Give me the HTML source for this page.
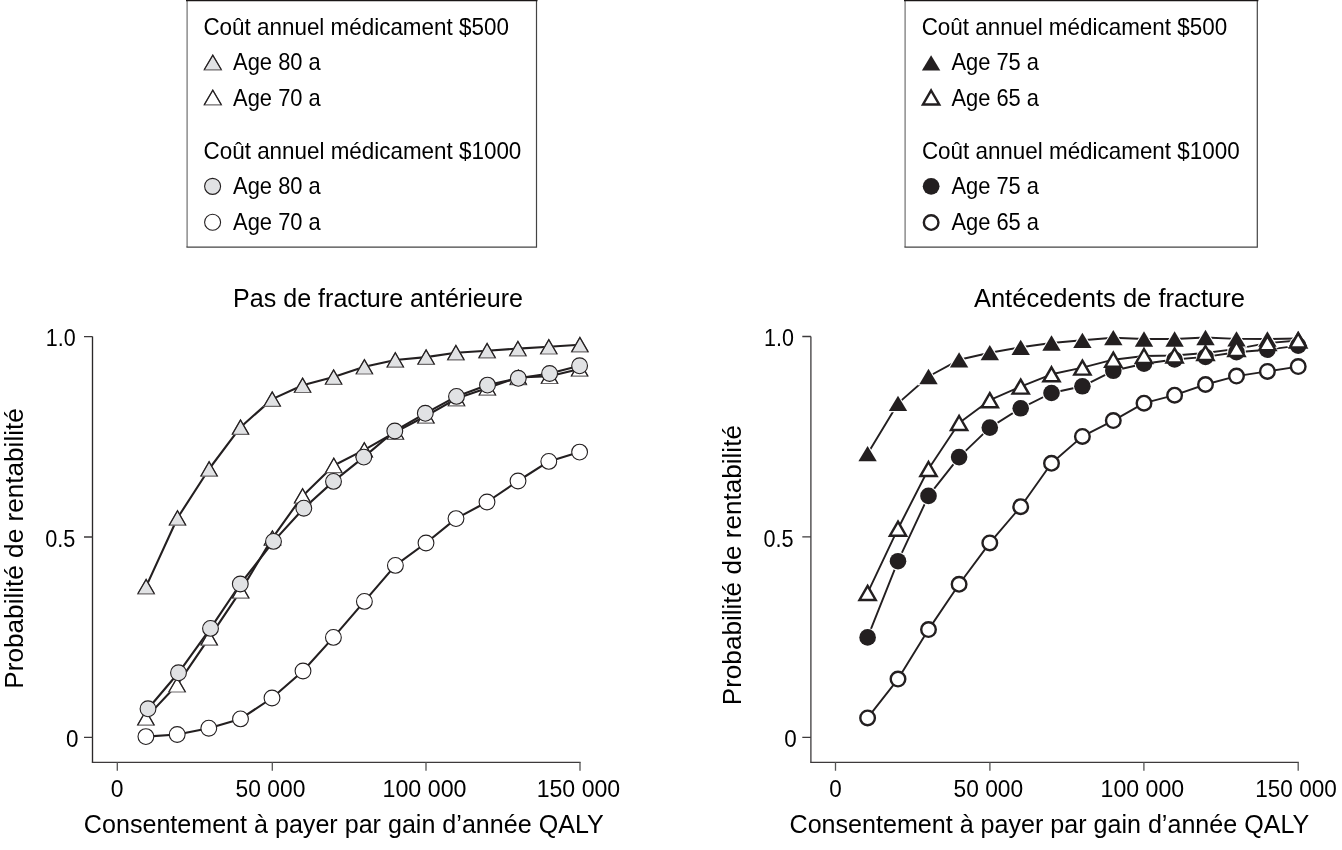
<!DOCTYPE html>
<html><head><meta charset="utf-8"><title>Probabilité de rentabilité</title>
<style>
html,body{margin:0;padding:0;background:#fff;}
svg{display:block;will-change:transform;}
text{font-family:"Liberation Sans",sans-serif;fill:#000;}
</style></head>
<body>
<svg width="1342" height="850" viewBox="0 0 1342 850">
<rect width="1342" height="850" fill="#fff"/>

<g fill="none">
<path d="M92.5,336.6V762.3" stroke="#2b2829" stroke-width="1.35"/>
<path d="M810.9,336.5V762.3" stroke="#3d3a3b" stroke-width="1.3"/>
<path d="M84,336.6H92.5M84,537H92.5M84,737.3H92.5" stroke="#3d3a3b" stroke-width="1.3"/>
<path d="M802.3,336.5H810.9M802.3,536.9H810.9M802.3,737.3H810.9" stroke="#3d3a3b" stroke-width="1.3"/>
<path d="M91.8,762.3H580.6M810.2,762.3H1298.8" stroke="#3d3a3b" stroke-width="1.25"/>
<path d="M117.3,762.3V770.8M272.3,762.3V770.8M426,762.3V770.8M580,762.3V770.8" stroke="#555" stroke-width="1.3"/>
<path d="M835.5,762.3V770.7M989.9,762.3V770.7M1143.9,762.3V770.7M1298.2,762.3V770.7" stroke="#555" stroke-width="1.3"/>
</g>
<g fill="none" stroke-width="1.2">
<path d="M187.1,0V247.1" stroke="#7a7a7a" stroke-width="1.3"/>
<path d="M905.1,0V247.1" stroke="#7a7a7a" stroke-width="1.3"/>
<path d="M536.5,0V247.1H186.4" stroke="#444"/>
<path d="M1257.3,0V247.1H904.4" stroke="#444"/>
<path d="M186,0.5H537.5M904,0.5H1258.4" stroke="#1a1616" stroke-width="1.4"/>
</g>

<polyline points="146.1,586.6 177.5,518.0 209.1,469.0 240.5,427.2 272.2,399.1 302.6,385.3 333.6,377.1 364.4,366.8 395.3,360.0 426.1,357.1 455.9,352.7 487.1,350.7 517.9,348.6 548.8,346.8 579.9,344.7" fill="none" stroke="#231f20" stroke-width="2.1" stroke-linejoin="round"/>
<polyline points="145.9,717.9 177.1,684.8 209.2,637.9 240.7,590.9 272.4,538.1 302.6,495.9 333.8,465.5 364.3,449.9 395.4,432.1 425.9,416.0 456.5,398.6 487.4,388.0 518.3,377.4 549.5,376.3 579.6,368.9" fill="none" stroke="#231f20" stroke-width="2.1" stroke-linejoin="round"/>
<polyline points="148.0,708.8 178.5,672.8 210.5,628.4 240.3,584.0 273.5,541.4 303.8,508.2 333.5,481.4 363.8,457.1 394.8,431.0 425.3,413.3 456.5,396.4 487.5,385.1 518.3,378.3 549.6,373.5 579.6,365.8" fill="none" stroke="#231f20" stroke-width="2.1" stroke-linejoin="round"/>
<polyline points="145.9,736.6 177.2,734.5 208.8,728.2 240.5,718.9 272.0,698.0 303.0,671.0 333.4,637.4 364.4,601.4 395.4,565.4 426.0,543.0 456.0,518.6 487.0,502.0 518.0,481.0 548.8,461.4 579.6,452.1" fill="none" stroke="#231f20" stroke-width="2.1" stroke-linejoin="round"/>
<circle cx="145.90" cy="736.60" r="7.9" fill="#fff" stroke="#231f20" stroke-width="1.1"/>
<circle cx="177.20" cy="734.50" r="7.9" fill="#fff" stroke="#231f20" stroke-width="1.1"/>
<circle cx="208.80" cy="728.20" r="7.9" fill="#fff" stroke="#231f20" stroke-width="1.1"/>
<circle cx="240.50" cy="718.90" r="7.9" fill="#fff" stroke="#231f20" stroke-width="1.1"/>
<circle cx="272.00" cy="698.00" r="7.9" fill="#fff" stroke="#231f20" stroke-width="1.1"/>
<circle cx="303.00" cy="671.00" r="7.9" fill="#fff" stroke="#231f20" stroke-width="1.1"/>
<circle cx="333.40" cy="637.40" r="7.9" fill="#fff" stroke="#231f20" stroke-width="1.1"/>
<circle cx="364.40" cy="601.40" r="7.9" fill="#fff" stroke="#231f20" stroke-width="1.1"/>
<circle cx="395.40" cy="565.40" r="7.9" fill="#fff" stroke="#231f20" stroke-width="1.1"/>
<circle cx="426.00" cy="543.00" r="7.9" fill="#fff" stroke="#231f20" stroke-width="1.1"/>
<circle cx="456.00" cy="518.60" r="7.9" fill="#fff" stroke="#231f20" stroke-width="1.1"/>
<circle cx="487.00" cy="502.00" r="7.9" fill="#fff" stroke="#231f20" stroke-width="1.1"/>
<circle cx="518.00" cy="481.00" r="7.9" fill="#fff" stroke="#231f20" stroke-width="1.1"/>
<circle cx="548.80" cy="461.40" r="7.9" fill="#fff" stroke="#231f20" stroke-width="1.1"/>
<circle cx="579.60" cy="452.10" r="7.9" fill="#fff" stroke="#231f20" stroke-width="1.1"/>
<path d="M145.90,710.70L154.20,725.10L137.60,725.10Z" fill="#fff" stroke="#6e6b6c" stroke-width="1.2"/><path d="M137.60,725.10L145.90,710.70L154.20,725.10" fill="none" stroke="#231f20" stroke-width="1.2"/>
<path d="M177.10,677.60L185.40,692.00L168.80,692.00Z" fill="#fff" stroke="#6e6b6c" stroke-width="1.2"/><path d="M168.80,692.00L177.10,677.60L185.40,692.00" fill="none" stroke="#231f20" stroke-width="1.2"/>
<path d="M209.20,630.70L217.50,645.10L200.90,645.10Z" fill="#fff" stroke="#6e6b6c" stroke-width="1.2"/><path d="M200.90,645.10L209.20,630.70L217.50,645.10" fill="none" stroke="#231f20" stroke-width="1.2"/>
<path d="M240.70,583.70L249.00,598.10L232.40,598.10Z" fill="#fff" stroke="#6e6b6c" stroke-width="1.2"/><path d="M232.40,598.10L240.70,583.70L249.00,598.10" fill="none" stroke="#231f20" stroke-width="1.2"/>
<path d="M272.40,530.90L280.70,545.30L264.10,545.30Z" fill="#fff" stroke="#6e6b6c" stroke-width="1.2"/><path d="M264.10,545.30L272.40,530.90L280.70,545.30" fill="none" stroke="#231f20" stroke-width="1.2"/>
<path d="M302.60,488.70L310.90,503.10L294.30,503.10Z" fill="#fff" stroke="#6e6b6c" stroke-width="1.2"/><path d="M294.30,503.10L302.60,488.70L310.90,503.10" fill="none" stroke="#231f20" stroke-width="1.2"/>
<path d="M333.80,458.30L342.10,472.70L325.50,472.70Z" fill="#fff" stroke="#6e6b6c" stroke-width="1.2"/><path d="M325.50,472.70L333.80,458.30L342.10,472.70" fill="none" stroke="#231f20" stroke-width="1.2"/>
<path d="M364.30,442.70L372.60,457.10L356.00,457.10Z" fill="#fff" stroke="#6e6b6c" stroke-width="1.2"/><path d="M356.00,457.10L364.30,442.70L372.60,457.10" fill="none" stroke="#231f20" stroke-width="1.2"/>
<path d="M395.40,424.90L403.70,439.30L387.10,439.30Z" fill="#fff" stroke="#6e6b6c" stroke-width="1.2"/><path d="M387.10,439.30L395.40,424.90L403.70,439.30" fill="none" stroke="#231f20" stroke-width="1.2"/>
<path d="M425.90,408.80L434.20,423.20L417.60,423.20Z" fill="#fff" stroke="#6e6b6c" stroke-width="1.2"/><path d="M417.60,423.20L425.90,408.80L434.20,423.20" fill="none" stroke="#231f20" stroke-width="1.2"/>
<path d="M456.50,391.40L464.80,405.80L448.20,405.80Z" fill="#fff" stroke="#6e6b6c" stroke-width="1.2"/><path d="M448.20,405.80L456.50,391.40L464.80,405.80" fill="none" stroke="#231f20" stroke-width="1.2"/>
<path d="M487.40,380.80L495.70,395.20L479.10,395.20Z" fill="#fff" stroke="#6e6b6c" stroke-width="1.2"/><path d="M479.10,395.20L487.40,380.80L495.70,395.20" fill="none" stroke="#231f20" stroke-width="1.2"/>
<path d="M518.30,370.20L526.60,384.60L510.00,384.60Z" fill="#fff" stroke="#6e6b6c" stroke-width="1.2"/><path d="M510.00,384.60L518.30,370.20L526.60,384.60" fill="none" stroke="#231f20" stroke-width="1.2"/>
<path d="M549.50,369.10L557.80,383.50L541.20,383.50Z" fill="#fff" stroke="#6e6b6c" stroke-width="1.2"/><path d="M541.20,383.50L549.50,369.10L557.80,383.50" fill="none" stroke="#231f20" stroke-width="1.2"/>
<path d="M579.60,361.70L587.90,376.10L571.30,376.10Z" fill="#fff" stroke="#6e6b6c" stroke-width="1.2"/><path d="M571.30,376.10L579.60,361.70L587.90,376.10" fill="none" stroke="#231f20" stroke-width="1.2"/>
<circle cx="148.00" cy="708.80" r="7.9" fill="#e1e2e4" stroke="#231f20" stroke-width="1.1"/>
<circle cx="178.50" cy="672.80" r="7.9" fill="#e1e2e4" stroke="#231f20" stroke-width="1.1"/>
<circle cx="210.50" cy="628.40" r="7.9" fill="#e1e2e4" stroke="#231f20" stroke-width="1.1"/>
<circle cx="240.30" cy="584.00" r="7.9" fill="#e1e2e4" stroke="#231f20" stroke-width="1.1"/>
<circle cx="273.50" cy="541.40" r="7.9" fill="#e1e2e4" stroke="#231f20" stroke-width="1.1"/>
<circle cx="303.80" cy="508.20" r="7.9" fill="#e1e2e4" stroke="#231f20" stroke-width="1.1"/>
<circle cx="333.50" cy="481.40" r="7.9" fill="#e1e2e4" stroke="#231f20" stroke-width="1.1"/>
<circle cx="363.80" cy="457.10" r="7.9" fill="#e1e2e4" stroke="#231f20" stroke-width="1.1"/>
<circle cx="394.80" cy="431.00" r="7.9" fill="#e1e2e4" stroke="#231f20" stroke-width="1.1"/>
<circle cx="425.30" cy="413.30" r="7.9" fill="#e1e2e4" stroke="#231f20" stroke-width="1.1"/>
<circle cx="456.50" cy="396.40" r="7.9" fill="#e1e2e4" stroke="#231f20" stroke-width="1.1"/>
<circle cx="487.50" cy="385.10" r="7.9" fill="#e1e2e4" stroke="#231f20" stroke-width="1.1"/>
<circle cx="518.30" cy="378.30" r="7.9" fill="#e1e2e4" stroke="#231f20" stroke-width="1.1"/>
<circle cx="549.60" cy="373.50" r="7.9" fill="#e1e2e4" stroke="#231f20" stroke-width="1.1"/>
<circle cx="579.60" cy="365.80" r="7.9" fill="#e1e2e4" stroke="#231f20" stroke-width="1.1"/>
<path d="M146.10,579.40L154.40,593.80L137.80,593.80Z" fill="#e1e2e4" stroke="#6e6b6c" stroke-width="1.2"/><path d="M137.80,593.80L146.10,579.40L154.40,593.80" fill="none" stroke="#231f20" stroke-width="1.2"/>
<path d="M177.50,510.80L185.80,525.20L169.20,525.20Z" fill="#e1e2e4" stroke="#6e6b6c" stroke-width="1.2"/><path d="M169.20,525.20L177.50,510.80L185.80,525.20" fill="none" stroke="#231f20" stroke-width="1.2"/>
<path d="M209.10,461.80L217.40,476.20L200.80,476.20Z" fill="#e1e2e4" stroke="#6e6b6c" stroke-width="1.2"/><path d="M200.80,476.20L209.10,461.80L217.40,476.20" fill="none" stroke="#231f20" stroke-width="1.2"/>
<path d="M240.50,420.00L248.80,434.40L232.20,434.40Z" fill="#e1e2e4" stroke="#6e6b6c" stroke-width="1.2"/><path d="M232.20,434.40L240.50,420.00L248.80,434.40" fill="none" stroke="#231f20" stroke-width="1.2"/>
<path d="M272.20,391.90L280.50,406.30L263.90,406.30Z" fill="#e1e2e4" stroke="#6e6b6c" stroke-width="1.2"/><path d="M263.90,406.30L272.20,391.90L280.50,406.30" fill="none" stroke="#231f20" stroke-width="1.2"/>
<path d="M302.60,378.10L310.90,392.50L294.30,392.50Z" fill="#e1e2e4" stroke="#6e6b6c" stroke-width="1.2"/><path d="M294.30,392.50L302.60,378.10L310.90,392.50" fill="none" stroke="#231f20" stroke-width="1.2"/>
<path d="M333.60,369.90L341.90,384.30L325.30,384.30Z" fill="#e1e2e4" stroke="#6e6b6c" stroke-width="1.2"/><path d="M325.30,384.30L333.60,369.90L341.90,384.30" fill="none" stroke="#231f20" stroke-width="1.2"/>
<path d="M364.40,359.60L372.70,374.00L356.10,374.00Z" fill="#e1e2e4" stroke="#6e6b6c" stroke-width="1.2"/><path d="M356.10,374.00L364.40,359.60L372.70,374.00" fill="none" stroke="#231f20" stroke-width="1.2"/>
<path d="M395.30,352.80L403.60,367.20L387.00,367.20Z" fill="#e1e2e4" stroke="#6e6b6c" stroke-width="1.2"/><path d="M387.00,367.20L395.30,352.80L403.60,367.20" fill="none" stroke="#231f20" stroke-width="1.2"/>
<path d="M426.10,349.90L434.40,364.30L417.80,364.30Z" fill="#e1e2e4" stroke="#6e6b6c" stroke-width="1.2"/><path d="M417.80,364.30L426.10,349.90L434.40,364.30" fill="none" stroke="#231f20" stroke-width="1.2"/>
<path d="M455.90,345.50L464.20,359.90L447.60,359.90Z" fill="#e1e2e4" stroke="#6e6b6c" stroke-width="1.2"/><path d="M447.60,359.90L455.90,345.50L464.20,359.90" fill="none" stroke="#231f20" stroke-width="1.2"/>
<path d="M487.10,343.50L495.40,357.90L478.80,357.90Z" fill="#e1e2e4" stroke="#6e6b6c" stroke-width="1.2"/><path d="M478.80,357.90L487.10,343.50L495.40,357.90" fill="none" stroke="#231f20" stroke-width="1.2"/>
<path d="M517.90,341.40L526.20,355.80L509.60,355.80Z" fill="#e1e2e4" stroke="#6e6b6c" stroke-width="1.2"/><path d="M509.60,355.80L517.90,341.40L526.20,355.80" fill="none" stroke="#231f20" stroke-width="1.2"/>
<path d="M548.80,339.60L557.10,354.00L540.50,354.00Z" fill="#e1e2e4" stroke="#6e6b6c" stroke-width="1.2"/><path d="M540.50,354.00L548.80,339.60L557.10,354.00" fill="none" stroke="#231f20" stroke-width="1.2"/>
<path d="M579.90,337.50L588.20,351.90L571.60,351.90Z" fill="#e1e2e4" stroke="#6e6b6c" stroke-width="1.2"/><path d="M571.60,351.90L579.90,337.50L588.20,351.90" fill="none" stroke="#231f20" stroke-width="1.2"/>
<polyline points="867.6,453.7 898.0,403.4 928.5,376.5 959.1,359.8 989.8,352.7 1020.7,347.3 1051.5,343.0 1082.4,340.3 1113.3,337.7 1144.0,339.0 1174.6,339.0 1205.5,337.5 1236.5,338.9 1267.4,339.0 1298.2,338.5" fill="none" stroke="#231f20" stroke-width="1.9" stroke-linejoin="round"/>
<polyline points="867.6,592.9 898.0,528.7 928.5,469.0 959.1,423.0 989.8,400.2 1020.7,386.6 1051.5,374.3 1082.4,367.6 1113.3,359.7 1144.0,356.0 1174.6,355.5 1205.5,353.0 1236.5,348.9 1267.4,343.1 1298.2,340.5" fill="none" stroke="#231f20" stroke-width="1.9" stroke-linejoin="round"/>
<polyline points="867.6,637.4 898.0,561.2 928.5,495.9 959.1,457.1 989.8,427.6 1020.7,408.3 1051.5,393.0 1082.4,386.3 1113.3,370.8 1144.0,363.7 1174.6,359.5 1205.5,356.9 1236.5,352.2 1267.4,349.7 1298.2,345.6" fill="none" stroke="#231f20" stroke-width="1.9" stroke-linejoin="round"/>
<polyline points="867.6,717.9 898.0,679.1 928.5,629.6 959.1,584.3 989.8,542.9 1020.7,506.7 1051.5,463.3 1082.4,436.4 1113.3,420.6 1144.0,403.2 1174.6,395.2 1205.5,384.5 1236.5,376.1 1267.4,371.4 1298.2,366.6" fill="none" stroke="#231f20" stroke-width="1.9" stroke-linejoin="round"/>
<path d="M867.60,446.05L876.80,461.35L858.40,461.35Z" fill="#fff" stroke="#fff" stroke-width="2.2"/>
<path d="M898.00,395.75L907.20,411.05L888.80,411.05Z" fill="#fff" stroke="#fff" stroke-width="2.2"/>
<path d="M928.50,368.85L937.70,384.15L919.30,384.15Z" fill="#fff" stroke="#fff" stroke-width="2.2"/>
<path d="M959.10,352.15L968.30,367.45L949.90,367.45Z" fill="#fff" stroke="#fff" stroke-width="2.2"/>
<path d="M989.80,345.05L999.00,360.35L980.60,360.35Z" fill="#fff" stroke="#fff" stroke-width="2.2"/>
<path d="M1020.70,339.65L1029.90,354.95L1011.50,354.95Z" fill="#fff" stroke="#fff" stroke-width="2.2"/>
<path d="M1051.50,335.35L1060.70,350.65L1042.30,350.65Z" fill="#fff" stroke="#fff" stroke-width="2.2"/>
<path d="M1082.40,332.65L1091.60,347.95L1073.20,347.95Z" fill="#fff" stroke="#fff" stroke-width="2.2"/>
<path d="M1113.30,330.05L1122.50,345.35L1104.10,345.35Z" fill="#fff" stroke="#fff" stroke-width="2.2"/>
<path d="M1144.00,331.35L1153.20,346.65L1134.80,346.65Z" fill="#fff" stroke="#fff" stroke-width="2.2"/>
<path d="M1174.60,331.35L1183.80,346.65L1165.40,346.65Z" fill="#fff" stroke="#fff" stroke-width="2.2"/>
<path d="M1205.50,329.85L1214.70,345.15L1196.30,345.15Z" fill="#fff" stroke="#fff" stroke-width="2.2"/>
<path d="M1236.50,331.25L1245.70,346.55L1227.30,346.55Z" fill="#fff" stroke="#fff" stroke-width="2.2"/>
<path d="M1267.40,331.35L1276.60,346.65L1258.20,346.65Z" fill="#fff" stroke="#fff" stroke-width="2.2"/>
<path d="M1298.20,330.85L1307.40,346.15L1289.00,346.15Z" fill="#fff" stroke="#fff" stroke-width="2.2"/>
<circle cx="867.60" cy="637.40" r="8.3" fill="#fff" stroke="#fff" stroke-width="2.2"/>
<circle cx="898.00" cy="561.20" r="8.3" fill="#fff" stroke="#fff" stroke-width="2.2"/>
<circle cx="928.50" cy="495.90" r="8.3" fill="#fff" stroke="#fff" stroke-width="2.2"/>
<circle cx="959.10" cy="457.10" r="8.3" fill="#fff" stroke="#fff" stroke-width="2.2"/>
<circle cx="989.80" cy="427.60" r="8.3" fill="#fff" stroke="#fff" stroke-width="2.2"/>
<circle cx="1020.70" cy="408.30" r="8.3" fill="#fff" stroke="#fff" stroke-width="2.2"/>
<circle cx="1051.50" cy="393.00" r="8.3" fill="#fff" stroke="#fff" stroke-width="2.2"/>
<circle cx="1082.40" cy="386.30" r="8.3" fill="#fff" stroke="#fff" stroke-width="2.2"/>
<circle cx="1113.30" cy="370.80" r="8.3" fill="#fff" stroke="#fff" stroke-width="2.2"/>
<circle cx="1144.00" cy="363.70" r="8.3" fill="#fff" stroke="#fff" stroke-width="2.2"/>
<circle cx="1174.60" cy="359.50" r="8.3" fill="#fff" stroke="#fff" stroke-width="2.2"/>
<circle cx="1205.50" cy="356.90" r="8.3" fill="#fff" stroke="#fff" stroke-width="2.2"/>
<circle cx="1236.50" cy="352.20" r="8.3" fill="#fff" stroke="#fff" stroke-width="2.2"/>
<circle cx="1267.40" cy="349.70" r="8.3" fill="#fff" stroke="#fff" stroke-width="2.2"/>
<circle cx="1298.20" cy="345.60" r="8.3" fill="#fff" stroke="#fff" stroke-width="2.2"/>
<circle cx="867.60" cy="717.90" r="7.3" fill="#fff" stroke="#231f20" stroke-width="2.4"/>
<circle cx="898.00" cy="679.10" r="7.3" fill="#fff" stroke="#231f20" stroke-width="2.4"/>
<circle cx="928.50" cy="629.60" r="7.3" fill="#fff" stroke="#231f20" stroke-width="2.4"/>
<circle cx="959.10" cy="584.30" r="7.3" fill="#fff" stroke="#231f20" stroke-width="2.4"/>
<circle cx="989.80" cy="542.90" r="7.3" fill="#fff" stroke="#231f20" stroke-width="2.4"/>
<circle cx="1020.70" cy="506.70" r="7.3" fill="#fff" stroke="#231f20" stroke-width="2.4"/>
<circle cx="1051.50" cy="463.30" r="7.3" fill="#fff" stroke="#231f20" stroke-width="2.4"/>
<circle cx="1082.40" cy="436.40" r="7.3" fill="#fff" stroke="#231f20" stroke-width="2.4"/>
<circle cx="1113.30" cy="420.60" r="7.3" fill="#fff" stroke="#231f20" stroke-width="2.4"/>
<circle cx="1144.00" cy="403.20" r="7.3" fill="#fff" stroke="#231f20" stroke-width="2.4"/>
<circle cx="1174.60" cy="395.20" r="7.3" fill="#fff" stroke="#231f20" stroke-width="2.4"/>
<circle cx="1205.50" cy="384.50" r="7.3" fill="#fff" stroke="#231f20" stroke-width="2.4"/>
<circle cx="1236.50" cy="376.10" r="7.3" fill="#fff" stroke="#231f20" stroke-width="2.4"/>
<circle cx="1267.40" cy="371.40" r="7.3" fill="#fff" stroke="#231f20" stroke-width="2.4"/>
<circle cx="1298.20" cy="366.60" r="7.3" fill="#fff" stroke="#231f20" stroke-width="2.4"/>
<path d="M867.60,446.05L876.80,461.35L858.40,461.35Z" fill="#231f20" stroke="#231f20" stroke-width="0"/>
<path d="M898.00,395.75L907.20,411.05L888.80,411.05Z" fill="#231f20" stroke="#231f20" stroke-width="0"/>
<path d="M928.50,368.85L937.70,384.15L919.30,384.15Z" fill="#231f20" stroke="#231f20" stroke-width="0"/>
<path d="M959.10,352.15L968.30,367.45L949.90,367.45Z" fill="#231f20" stroke="#231f20" stroke-width="0"/>
<path d="M989.80,345.05L999.00,360.35L980.60,360.35Z" fill="#231f20" stroke="#231f20" stroke-width="0"/>
<path d="M1020.70,339.65L1029.90,354.95L1011.50,354.95Z" fill="#231f20" stroke="#231f20" stroke-width="0"/>
<path d="M1051.50,335.35L1060.70,350.65L1042.30,350.65Z" fill="#231f20" stroke="#231f20" stroke-width="0"/>
<path d="M1082.40,332.65L1091.60,347.95L1073.20,347.95Z" fill="#231f20" stroke="#231f20" stroke-width="0"/>
<path d="M1113.30,330.05L1122.50,345.35L1104.10,345.35Z" fill="#231f20" stroke="#231f20" stroke-width="0"/>
<path d="M1144.00,331.35L1153.20,346.65L1134.80,346.65Z" fill="#231f20" stroke="#231f20" stroke-width="0"/>
<path d="M1174.60,331.35L1183.80,346.65L1165.40,346.65Z" fill="#231f20" stroke="#231f20" stroke-width="0"/>
<path d="M1205.50,329.85L1214.70,345.15L1196.30,345.15Z" fill="#231f20" stroke="#231f20" stroke-width="0"/>
<path d="M1236.50,331.25L1245.70,346.55L1227.30,346.55Z" fill="#231f20" stroke="#231f20" stroke-width="0"/>
<path d="M1267.40,331.35L1276.60,346.65L1258.20,346.65Z" fill="#231f20" stroke="#231f20" stroke-width="0"/>
<path d="M1298.20,330.85L1307.40,346.15L1289.00,346.15Z" fill="#231f20" stroke="#231f20" stroke-width="0"/>
<circle cx="867.60" cy="637.40" r="8.3" fill="#231f20" stroke="#231f20" stroke-width="0"/>
<circle cx="898.00" cy="561.20" r="8.3" fill="#231f20" stroke="#231f20" stroke-width="0"/>
<circle cx="928.50" cy="495.90" r="8.3" fill="#231f20" stroke="#231f20" stroke-width="0"/>
<circle cx="959.10" cy="457.10" r="8.3" fill="#231f20" stroke="#231f20" stroke-width="0"/>
<circle cx="989.80" cy="427.60" r="8.3" fill="#231f20" stroke="#231f20" stroke-width="0"/>
<circle cx="1020.70" cy="408.30" r="8.3" fill="#231f20" stroke="#231f20" stroke-width="0"/>
<circle cx="1051.50" cy="393.00" r="8.3" fill="#231f20" stroke="#231f20" stroke-width="0"/>
<circle cx="1082.40" cy="386.30" r="8.3" fill="#231f20" stroke="#231f20" stroke-width="0"/>
<circle cx="1113.30" cy="370.80" r="8.3" fill="#231f20" stroke="#231f20" stroke-width="0"/>
<circle cx="1144.00" cy="363.70" r="8.3" fill="#231f20" stroke="#231f20" stroke-width="0"/>
<circle cx="1174.60" cy="359.50" r="8.3" fill="#231f20" stroke="#231f20" stroke-width="0"/>
<circle cx="1205.50" cy="356.90" r="8.3" fill="#231f20" stroke="#231f20" stroke-width="0"/>
<circle cx="1236.50" cy="352.20" r="8.3" fill="#231f20" stroke="#231f20" stroke-width="0"/>
<circle cx="1267.40" cy="349.70" r="8.3" fill="#231f20" stroke="#231f20" stroke-width="0"/>
<circle cx="1298.20" cy="345.60" r="8.3" fill="#231f20" stroke="#231f20" stroke-width="0"/>
<path d="M867.60,585.90L875.70,599.90L859.50,599.90Z" fill="#fff" stroke="#231f20" stroke-width="2.45"/>
<path d="M898.00,521.70L906.10,535.70L889.90,535.70Z" fill="#fff" stroke="#231f20" stroke-width="2.45"/>
<path d="M928.50,462.00L936.60,476.00L920.40,476.00Z" fill="#fff" stroke="#231f20" stroke-width="2.45"/>
<path d="M959.10,416.00L967.20,430.00L951.00,430.00Z" fill="#fff" stroke="#231f20" stroke-width="2.45"/>
<path d="M989.80,393.20L997.90,407.20L981.70,407.20Z" fill="#fff" stroke="#231f20" stroke-width="2.45"/>
<path d="M1020.70,379.60L1028.80,393.60L1012.60,393.60Z" fill="#fff" stroke="#231f20" stroke-width="2.45"/>
<path d="M1051.50,367.30L1059.60,381.30L1043.40,381.30Z" fill="#fff" stroke="#231f20" stroke-width="2.45"/>
<path d="M1082.40,360.60L1090.50,374.60L1074.30,374.60Z" fill="#fff" stroke="#231f20" stroke-width="2.45"/>
<path d="M1113.30,352.70L1121.40,366.70L1105.20,366.70Z" fill="#fff" stroke="#231f20" stroke-width="2.45"/>
<path d="M1144.00,349.00L1152.10,363.00L1135.90,363.00Z" fill="#fff" stroke="#231f20" stroke-width="2.45"/>
<path d="M1174.60,348.50L1182.70,362.50L1166.50,362.50Z" fill="#fff" stroke="#231f20" stroke-width="2.45"/>
<path d="M1205.50,346.00L1213.60,360.00L1197.40,360.00Z" fill="#fff" stroke="#231f20" stroke-width="2.45"/>
<path d="M1236.50,341.90L1244.60,355.90L1228.40,355.90Z" fill="#fff" stroke="#231f20" stroke-width="2.45"/>
<path d="M1267.40,336.10L1275.50,350.10L1259.30,350.10Z" fill="#fff" stroke="#231f20" stroke-width="2.45"/>
<path d="M1298.20,333.50L1306.30,347.50L1290.10,347.50Z" fill="#fff" stroke="#231f20" stroke-width="2.45"/>
<path d="M212.80,55.20L221.40,69.80L204.20,69.80Z" fill="#e1e2e4" stroke="#6e6b6c" stroke-width="1.2"/><path d="M204.20,69.80L212.80,55.20L221.40,69.80" fill="none" stroke="#231f20" stroke-width="1.2"/>
<path d="M212.80,90.30L221.40,104.90L204.20,104.90Z" fill="#fff" stroke="#6e6b6c" stroke-width="1.2"/><path d="M204.20,104.90L212.80,90.30L221.40,104.90" fill="none" stroke="#231f20" stroke-width="1.2"/>
<circle cx="212.60" cy="186.35" r="8.0" fill="#e1e2e4" stroke="#231f20" stroke-width="1.1"/>
<circle cx="212.60" cy="222.30" r="8.0" fill="#fff" stroke="#231f20" stroke-width="1.1"/>
<path d="M931.10,55.25L940.30,70.55L921.90,70.55Z" fill="#231f20" stroke="#231f20" stroke-width="0"/>
<path d="M931.10,90.50L939.20,104.50L923.00,104.50Z" fill="#fff" stroke="#231f20" stroke-width="2.45"/>
<circle cx="931.15" cy="186.35" r="8.4" fill="#231f20" stroke="#231f20" stroke-width="0"/>
<circle cx="931.15" cy="222.55" r="7.3" fill="#fff" stroke="#231f20" stroke-width="2.4"/>
<text x="203.38" y="34.60" font-size="23.6" textLength="305.50" lengthAdjust="spacingAndGlyphs">Coût annuel médicament $500</text>
<text x="233.10" y="70.20" font-size="23.6" textLength="87.66" lengthAdjust="spacingAndGlyphs">Age 80 a</text>
<text x="233.10" y="105.50" font-size="23.6" textLength="87.66" lengthAdjust="spacingAndGlyphs">Age 70 a</text>
<text x="203.58" y="158.70" font-size="23.6" textLength="317.74" lengthAdjust="spacingAndGlyphs">Coût annuel médicament $1000</text>
<text x="233.10" y="194.20" font-size="23.6" textLength="87.66" lengthAdjust="spacingAndGlyphs">Age 80 a</text>
<text x="233.10" y="230.30" font-size="23.6" textLength="87.66" lengthAdjust="spacingAndGlyphs">Age 70 a</text>
<text x="921.68" y="34.60" font-size="23.6" textLength="305.50" lengthAdjust="spacingAndGlyphs">Coût annuel médicament $500</text>
<text x="951.40" y="70.20" font-size="23.6" textLength="87.66" lengthAdjust="spacingAndGlyphs">Age 75 a</text>
<text x="951.40" y="105.50" font-size="23.6" textLength="87.66" lengthAdjust="spacingAndGlyphs">Age 65 a</text>
<text x="921.88" y="158.70" font-size="23.6" textLength="317.74" lengthAdjust="spacingAndGlyphs">Coût annuel médicament $1000</text>
<text x="951.40" y="194.20" font-size="23.6" textLength="87.66" lengthAdjust="spacingAndGlyphs">Age 75 a</text>
<text x="951.40" y="230.30" font-size="23.6" textLength="87.66" lengthAdjust="spacingAndGlyphs">Age 65 a</text>
<text x="45.80" y="346.00" font-size="23.6" textLength="29.85" lengthAdjust="spacingAndGlyphs">1.0</text>
<text x="45.15" y="546.80" font-size="23.6" textLength="30.12" lengthAdjust="spacingAndGlyphs">0.5</text>
<text x="66.03" y="746.80" font-size="23.6" textLength="12.49" lengthAdjust="spacingAndGlyphs">0</text>
<text x="764.10" y="346.00" font-size="23.6" textLength="29.85" lengthAdjust="spacingAndGlyphs">1.0</text>
<text x="763.45" y="546.80" font-size="23.6" textLength="30.12" lengthAdjust="spacingAndGlyphs">0.5</text>
<text x="784.33" y="746.80" font-size="23.6" textLength="12.49" lengthAdjust="spacingAndGlyphs">0</text>
<text x="110.71" y="796.80" font-size="23.6" textLength="12.71" lengthAdjust="spacingAndGlyphs">0</text>
<text x="235.59" y="796.80" font-size="23.6" textLength="69.79" lengthAdjust="spacingAndGlyphs">50 000</text>
<text x="382.47" y="796.80" font-size="23.6" textLength="84.04" lengthAdjust="spacingAndGlyphs">100 000</text>
<text x="536.68" y="796.80" font-size="23.6" textLength="83.52" lengthAdjust="spacingAndGlyphs">150 000</text>
<text x="829.33" y="796.80" font-size="23.6" textLength="12.49" lengthAdjust="spacingAndGlyphs">0</text>
<text x="953.59" y="796.80" font-size="23.6" textLength="69.59" lengthAdjust="spacingAndGlyphs">50 000</text>
<text x="1100.58" y="796.80" font-size="23.6" textLength="83.52" lengthAdjust="spacingAndGlyphs">100 000</text>
<text x="1255.22" y="796.80" font-size="23.6" textLength="81.57" lengthAdjust="spacingAndGlyphs">150 000</text>
<text x="233.09" y="306.80" font-size="26.2" textLength="289.86" lengthAdjust="spacingAndGlyphs">Pas de fracture antérieure</text>
<text x="973.90" y="306.80" font-size="26.2" textLength="271.07" lengthAdjust="spacingAndGlyphs">Antécedents de fracture</text>
<text x="83.85" y="833.00" font-size="26.2" textLength="519.89" lengthAdjust="spacingAndGlyphs">Consentement à payer par gain d’année QALY</text>
<text x="789.55" y="833.00" font-size="26.2" textLength="519.69" lengthAdjust="spacingAndGlyphs">Consentement à payer par gain d’année QALY</text>
<text transform="translate(22.90,686.60) rotate(-90)" x="-2.09" y="0" font-size="26.2" textLength="280.51" lengthAdjust="spacingAndGlyphs">Probabilité de rentabilité</text>
<text transform="translate(741.30,703.20) rotate(-90)" x="-2.09" y="0" font-size="26.2" textLength="280.21" lengthAdjust="spacingAndGlyphs">Probabilité de rentabilité</text>
</svg>
</body></html>
